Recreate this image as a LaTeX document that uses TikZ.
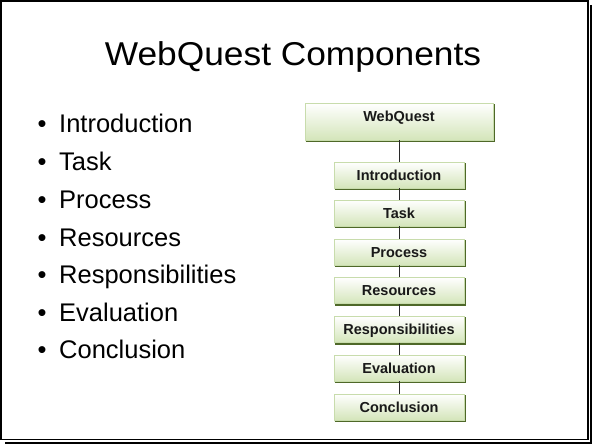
\documentclass[tikz,border=0pt]{standalone}
\usepackage{fontspec}
\setmainfont{Liberation Sans}
\definecolor{boxrim}{RGB}{200,220,172}
\definecolor{boxlow}{RGB}{212,229,186}
\definecolor{boxshadow}{RGB}{78,104,40}
\definecolor{linkgray}{RGB}{40,40,40}
\begin{document}
\begin{tikzpicture}[x=1pt,y=-1pt,
  compbox/.style={draw=boxrim, line width=0.9pt, top color=white, bottom color=boxlow,
    minimum width=130pt, minimum height=26pt, inner sep=0pt,
    text height=10.5pt, text depth=0pt,
    font=\fontsize{14.5}{16}\selectfont\bfseries, text=black!90},
  rootbox/.style={compbox, minimum width=188pt, minimum height=37pt,
    text height=10.5pt, text depth=10.5pt},
  link/.style={draw=linkgray, line width=0.9pt},
  bulletmark/.style={anchor=base, font=\fontsize{25.5}{28}\selectfont, inner sep=0pt},
  itemtext/.style={anchor=base west, font=\fontsize{25.5}{28}\selectfont, inner sep=0pt},
  title/.style={anchor=base, font=\fontsize{33}{36}\selectfont, inner sep=0pt}]
  \useasboundingbox (0,0) rectangle (592,444);

  % slide frame with its drop shadow on the right and bottom
  \draw[line width=2pt] (590.5,5) -- (590.5,442.5) -- (5,442.5);
  \filldraw[fill=white, draw=black, line width=1.6pt] (0.8,0.8) rectangle (588,439.5);

  % title
  \node[title] (heading) at (293,66) {\scalebox{1.07}[1]{WebQuest Components}};

  % bullet list
  \foreach \name/\txt/\yb in {li1/Introduction/132, li2/Task/170, li3/Process/208,
      li4/Resources/246, li5/Responsibilities/283, li6/Evaluation/321, li7/Conclusion/358}{
    \node[bulletmark] (\name b) at (42,\yb) {\textbullet};
    \node[itemtext] (\name) at (59,\yb) {\txt};
  }

  % component boxes
  \node[rootbox] (wq) at (399,121.5) {WebQuest};
  \node[compbox] (intro) at (399,175) {Introduction};
  \node[compbox] (task) at (399,213) {Task};
  \node[compbox] (proc) at (399,252) {Process};
  \node[compbox] (res) at (399,290.5) {Resources};
  \node[compbox] (resp) at (399,329.5) {Responsibilities};
  \node[compbox] (eval) at (399,368) {Evaluation};
  \node[compbox] (concl) at (399,407) {Conclusion};

  % dark edge along the bottom and right side of each box
  \foreach \n in {wq,intro,task,proc,res,resp,eval,concl}{
    \draw[boxshadow, line width=1.3pt]
      ([xshift=1pt,yshift=-1pt]\n.south west) -- ([xshift=1pt,yshift=-1pt]\n.south east)
      -- ([xshift=1pt,yshift=-1pt]\n.north east);
  }

  % connectors
  \draw[link] (wq.south) -- (intro.north);
  \draw[link] (intro.south) -- (task.north);
  \draw[link] (task.south) -- (proc.north);
  \draw[link] (proc.south) -- (res.north);
  \draw[link] (res.south) -- (resp.north);
  \draw[link] (resp.south) -- (eval.north);
  \draw[link] (eval.south) -- (concl.north);
\end{tikzpicture}
\end{document}
